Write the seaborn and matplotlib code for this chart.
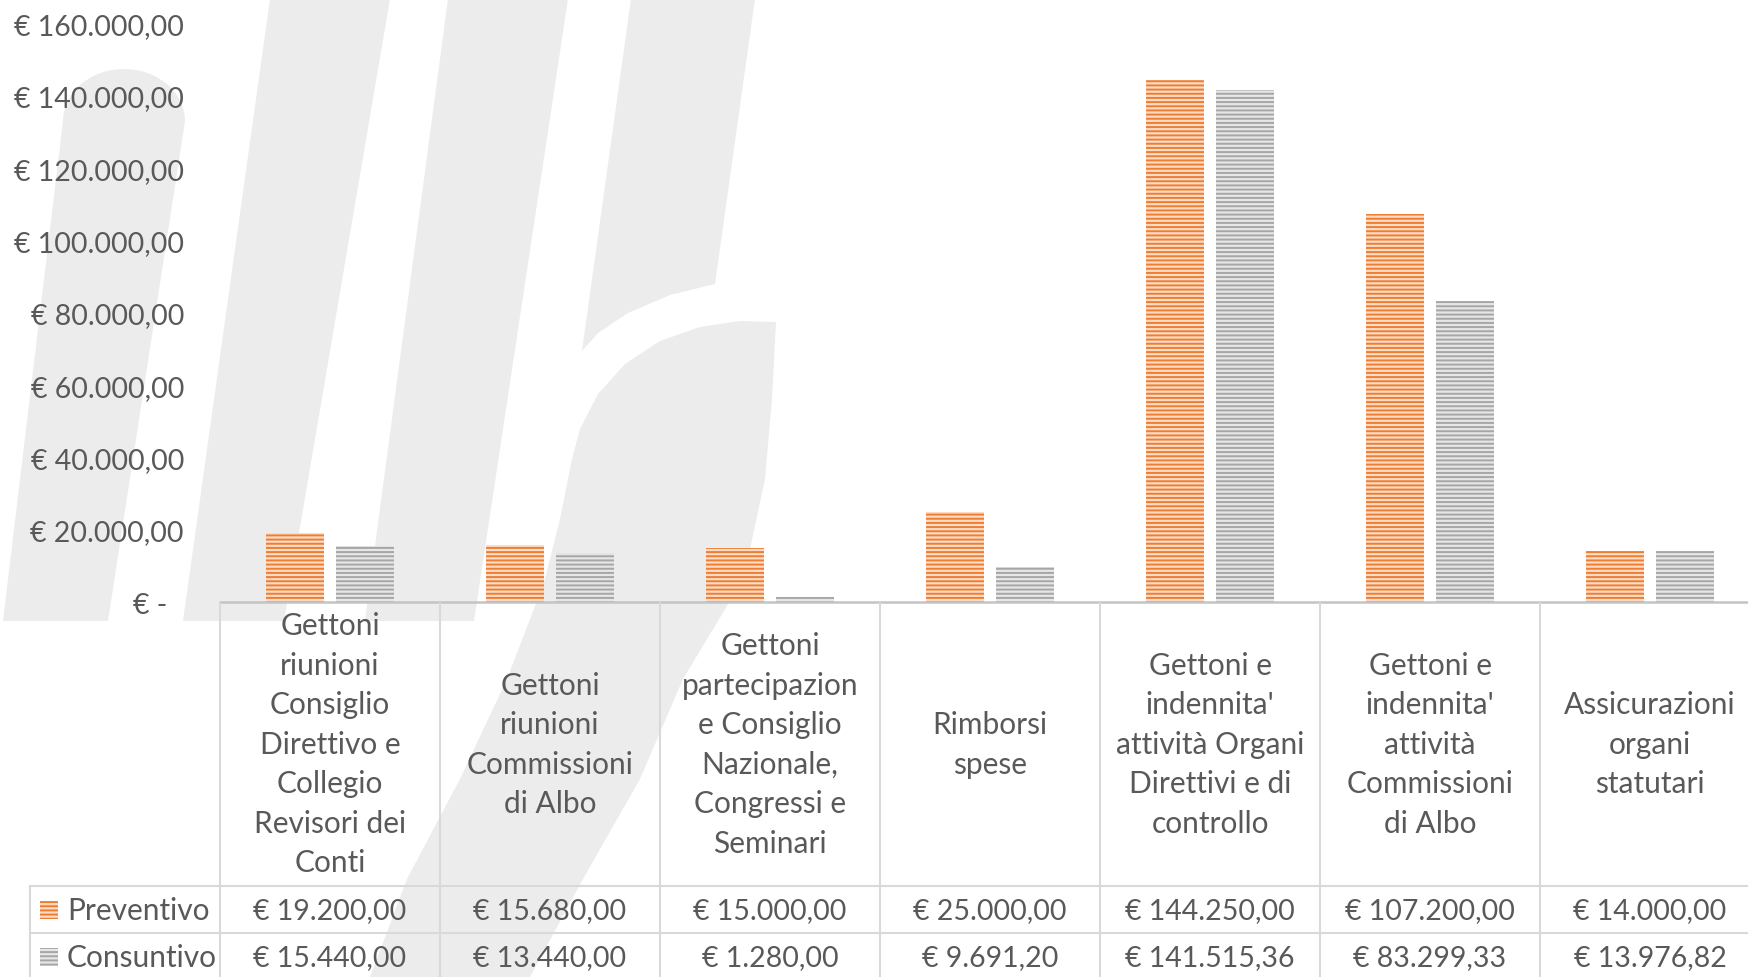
"""
Preventivo vs Consuntivo - spese organi istituzionali.

Bar chart (seaborn) with an Excel-style data table underneath and the
faint logo watermark in the background. Saves out.png (1748x978).
"""

import matplotlib

matplotlib.use("Agg")

import matplotlib.pyplot as plt
import numpy as np
import pandas as pd
import seaborn as sns
from matplotlib.lines import Line2D
from matplotlib.patches import Polygon, Rectangle
from matplotlib.transforms import ScaledTranslation, blended_transform_factory

# --- Data ---------------------------------------------------------------
categories = [
    "Gettoni\nriunioni\nConsiglio\nDirettivo e\nCollegio\nRevisori dei\nConti",
    "Gettoni\nriunioni\nCommissioni\ndi Albo",
    "Gettoni\npartecipazion\ne Consiglio\nNazionale,\nCongressi e\nSeminari",
    "Rimborsi\nspese",
    "Gettoni e\nindennita'\nattività Organi\nDirettivi e di\ncontrollo",
    "Gettoni e\nindennita'\nattività\nCommissioni\ndi Albo",
    "Assicurazioni\norgani\nstatutari",
]
series = ["Preventivo", "Consuntivo"]
preventivo = [19200.00, 15680.00, 15000.00, 25000.00, 144250.00, 107200.00, 14000.00]
consuntivo = [15440.00, 13440.00, 1280.00, 9691.20, 141515.36, 83299.33, 13976.82]
y_ticks = [0, 20000, 40000, 60000, 80000, 100000, 120000, 140000, 160000]

# --- Look ---------------------------------------------------------------
W, H, DPI = 1748, 978, 100
TEXT = "#595959"
GRID = "#d9d9d9"
WATERMARK = "#ececec"
# (stripe colour, face colour) per series
STYLE = {
    "Preventivo": ("#ed7d31", "#fcdcc6"),
    "Consuntivo": ("#a6a6a6", "#e6e6e6"),
}
FS_NUM = 20.5   # tick labels and table values
FS_CAT = 21.5   # category headers


def euro(v: float) -> str:
    """Italian accounting style: € 1.234,56 ; zero shown as '€ -'."""
    if v == 0:
        return "€ -"
    s = f"{v:,.2f}".replace(",", "X").replace(".", ",").replace("X", ".")
    return f"€ {s}"


def fx(x):
    return x / W


def fy(y):
    return 1 - y / H


df = pd.DataFrame({
    "categoria": categories * 2,
    "serie": [series[0]] * len(categories) + [series[1]] * len(categories),
    "importo": preventivo + consuntivo,
})

sns.set_theme(style="white")
plt.rcParams["font.family"] = ["Lato", "DejaVu Sans"]
plt.rcParams["hatch.linewidth"] = 1.4

fig = plt.figure(figsize=(W / DPI, H / DPI), dpi=DPI)
fig.patch.set_facecolor("white")

# --- Watermark (logo shapes, figure pixels) ------------------------------
t = np.linspace(np.pi, 0, 30)
stroke_a = list(zip(124 + 61 * np.cos(t), 122 - 52 * np.sin(t))) + [(108, 622), (3, 622)]
stroke_b = [(270, 0), (390, 0), (284, 622), (183, 622)]
stroke_c = [(448, 0), (568, 0), (474, 622), (365, 622)]
stroke_d = [(631, 0), (755, 0), (715, 285), (670, 296), (628, 314), (598, 334), (582, 352)]
bowl = [
    (776, 323), (772, 400), (765, 480), (750, 550), (727, 607), (683, 680),
    (640, 780), (583, 880), (530, 978), (370, 978), (407, 880), (460, 780),
    (507, 680), (535, 607), (545, 580), (560, 520), (572, 460), (580, 430),
    (598, 395), (625, 365), (660, 342), (700, 328), (740, 322),
]
for shape in (stroke_a, stroke_b, stroke_c, stroke_d, bowl):
    fig.add_artist(Polygon([(fx(x), fy(y)) for x, y in shape], closed=True,
                           facecolor=WATERMARK, edgecolor="none", zorder=-1))

# --- Bars ---------------------------------------------------------------
ax = fig.add_axes([fx(220), fy(603), fx(1760) - fx(220), fy(24.5) - fy(603)])
ax.set_facecolor("none")
sns.barplot(data=df, x="categoria", y="importo", hue="serie", hue_order=series,
            palette=[STYLE[s][0] for s in series], saturation=1,
            width=0.634, gap=0.167, legend=False, ax=ax)

for container, name in zip(ax.containers, series):
    stripe, face = STYLE[name]
    for bar in container:
        bar.set_facecolor(face)
        bar.set_edgecolor(stripe)
        bar.set_hatch("----")
        bar.set_linewidth(0)

ax.set_xlim(-0.5, len(categories) - 0.5)
ax.set_ylim(0, 160000)
ax.set_yticks(y_ticks)
ax.set_yticklabels([euro(v) for v in y_ticks])
ax.tick_params(axis="y", length=0, pad=26, labelsize=FS_NUM, labelcolor=TEXT)
ax.set_xticks(range(len(categories)))
ax.set_xticklabels([])
ax.tick_params(axis="x", length=0)
ax.set_xlabel("")
ax.set_ylabel("")
for side in ("top", "right", "left"):
    ax.spines[side].set_visible(False)
ax.spines["bottom"].set_color("#c4c4c4")
ax.spines["bottom"].set_linewidth(1.8)

# "€ -" sits a bit further left (accounting format padding)
zero_label = ax.get_yticklabels()[0]
zero_label.set_transform(zero_label.get_transform()
                         + ScaledTranslation(-17 / DPI, 0, fig.dpi_scale_trans))

# --- Data table ---------------------------------------------------------
trans = blended_transform_factory(ax.transData, fig.transFigure)
n = len(categories)

for i in range(n + 1):
    fig.add_artist(Line2D([i - 0.5, i - 0.5], [fy(604), fy(H + 5)], transform=trans,
                          color=GRID, lw=1.5))
for y in (887, 934):
    fig.add_artist(Line2D([fx(30), 1.01], [fy(y), fy(y)], transform=fig.transFigure,
                          color=GRID, lw=1.5))
fig.add_artist(Line2D([fx(30), fx(30)], [fy(887), fy(H + 5)], transform=fig.transFigure,
                      color=GRID, lw=1.5))

for i, label in enumerate(categories):
    ax.text(i, fy(745), label, transform=trans, ha="center", va="center",
            multialignment="center", fontsize=FS_CAT, color=TEXT, linespacing=1.5,
            clip_on=False)

row_y = {"Preventivo": 911, "Consuntivo": 958}
for name, values in zip(series, (preventivo, consuntivo)):
    yc = row_y[name]
    stripe, face = STYLE[name]
    fig.add_artist(Rectangle((fx(40), fy(yc + 9)), 18 / W, 18 / H,
                             transform=fig.transFigure, facecolor=face,
                             edgecolor=stripe, hatch="----", linewidth=0))
    fig.text(fx(67), fy(yc), name, ha="left", va="center", fontsize=FS_CAT, color=TEXT)
    for i, v in enumerate(values):
        ax.text(i, fy(yc), euro(v), transform=trans, ha="center", va="center",
                fontsize=FS_NUM, color=TEXT, clip_on=False)

fig.savefig("out.png", dpi=DPI, facecolor="white")
